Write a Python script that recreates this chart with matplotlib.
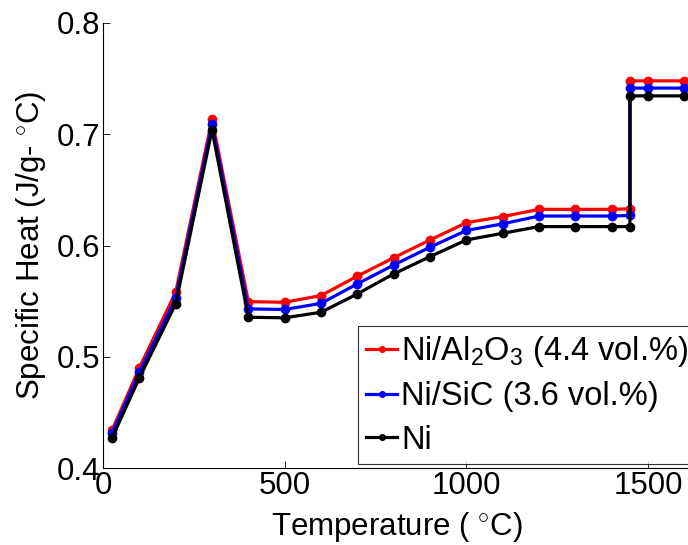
import numpy as np
import matplotlib
matplotlib.use("Agg")
import matplotlib.pyplot as plt

plt.rcParams['font.family'] = ['Liberation Sans', 'DejaVu Sans']
plt.rcParams['mathtext.fontset'] = 'custom'
plt.rcParams['mathtext.rm'] = 'Liberation Sans'
plt.rcParams['mathtext.it'] = 'Liberation Sans'

FS = 22.5

temps = [25, 100, 200, 300, 400, 500, 600, 700, 800, 900, 1000, 1100,
         1200, 1300, 1400, 1450, 1450, 1500, 1600]

cp_al2o3 = [0.434, 0.490, 0.558, 0.7135, 0.5495, 0.549, 0.555, 0.5725, 0.589, 0.605,
            0.6205, 0.626, 0.6325, 0.6325, 0.6325, 0.633, 0.748, 0.748, 0.748]
cp_sic = [0.4315, 0.486, 0.5525, 0.709, 0.543, 0.5425, 0.548, 0.5655, 0.5825, 0.5985,
          0.6135, 0.6195, 0.6265, 0.6265, 0.6265, 0.627, 0.7415, 0.7415, 0.7415]
cp_ni = [0.427, 0.481, 0.5475, 0.704, 0.5355, 0.535, 0.540, 0.5565, 0.5745, 0.590,
         0.605, 0.611, 0.617, 0.617, 0.617, 0.617, 0.7345, 0.7345, 0.7345]

labels = [r"Ni/Al$_2$O$_3$ (4.4 vol.%)", "Ni/SiC (3.6 vol.%)", "Ni"]
colors = ["red", "blue", "black"]

W, H = 688, 545
fig = plt.figure(figsize=(W / 100, H / 100), dpi=100)
# axes extends a little past the right edge, like the cropped original
ax = fig.add_axes([103 / W, (H - 468) / H, 1620 * 0.3634 / W, 445 / H])

for ys, c, lab in zip([cp_al2o3, cp_sic, cp_ni], colors, labels):
    ax.plot(temps, ys, color=c, lw=2.3, marker='o', ms=6, label=lab)

ax.set_xlim(0, 1620)
ax.set_ylim(0.4, 0.8)
ax.set_xticks([0, 500, 1000, 1500])
ax.set_yticks([0.4, 0.5, 0.6, 0.7, 0.8])
ax.set_yticklabels(["0.4", "0.5", "0.6", "0.7", "0.8"])
ax.tick_params(direction='in', length=5, width=0.6, labelsize=FS, pad=2)
for s in ['top', 'right']:
    ax.spines[s].set_visible(False)
for s in ['left', 'bottom']:
    ax.spines[s].set_linewidth(0.8)

ax.set_xlabel(r"Temperature ( $^{\circ}$C)", fontsize=FS, labelpad=7)
ax.set_ylabel(r"Specific Heat (J/g- $^{\circ}$C)", fontsize=FS, labelpad=6)

leg = ax.legend(loc='lower left', bbox_to_anchor=(358 / W, (H - 464) / H),
                bbox_transform=fig.transFigure, fontsize=23.5, frameon=True,
                fancybox=False, edgecolor='black', handlelength=0.95,
                handletextpad=0.12, borderpad=0.25, labelspacing=0.38,
                borderaxespad=0)
leg.get_frame().set_linewidth(0.8)
for h in leg.legend_handles:
    h.set_linewidth(2.3)
    h.set_markersize(4)

fig.savefig("out.png", dpi=100)
